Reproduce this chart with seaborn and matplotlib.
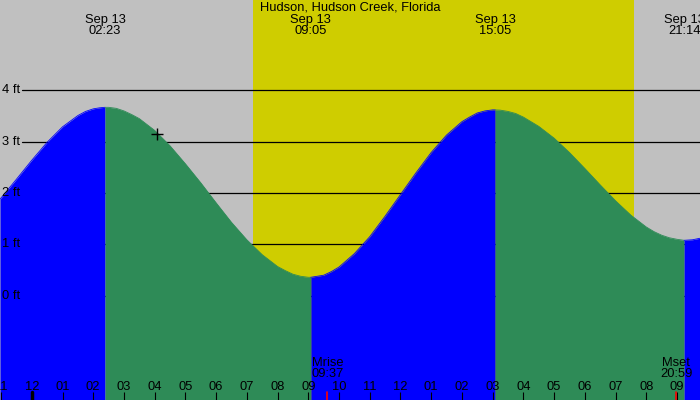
import pandas as pd
import matplotlib
matplotlib.use('Agg')
import matplotlib.pyplot as plt
import matplotlib.transforms as mtransforms
import seaborn as sns

title = 'Hudson, Hudson Creek, Florida'

# tide curve (hours after midnight Sep 13, feet)
tide_hours = [-1.035, -0.5, 0.0, 0.5, 1.0, 1.5, 1.75, 2.0, 2.2, 2.383,
              2.5, 2.75, 3.0, 3.25, 3.5, 4.0, 4.5, 5.0, 5.5, 6.0,
              6.5, 7.0, 7.5, 8.0, 8.25, 8.5, 8.75, 9.0, 9.083, 9.5,
              9.75, 10.0, 10.5, 11.0, 11.5, 12.0, 12.5, 13.0, 13.5, 14.0,
              14.25, 14.5, 14.75, 15.0, 15.083, 15.25, 15.5, 15.75, 16.0, 16.5,
              17.0, 17.5, 18.0, 18.5, 19.0, 19.5, 20.0, 20.25, 20.5, 20.75,
              21.0, 21.233, 21.5, 21.75]
tide_ft = [1.88, 2.27, 2.64, 2.99, 3.29, 3.51, 3.59, 3.64, 3.66, 3.67,
           3.67, 3.65, 3.60, 3.53, 3.45, 3.22, 2.92, 2.57, 2.20, 1.81,
           1.43, 1.09, 0.80, 0.57, 0.49, 0.42, 0.38, 0.36, 0.36, 0.40,
           0.47, 0.56, 0.82, 1.15, 1.55, 1.97, 2.39, 2.79, 3.13, 3.39,
           3.48, 3.56, 3.60, 3.62, 3.62, 3.615, 3.59, 3.55, 3.48, 3.30,
           3.07, 2.79, 2.48, 2.16, 1.85, 1.57, 1.34, 1.25, 1.18, 1.13,
           1.10, 1.08, 1.09, 1.12]

# high / low tides
extreme_hours = [2.383, 9.083, 15.083, 21.233]
extreme_dates = ['Sep 13', 'Sep 13', 'Sep 13', 'Sep 13']
extreme_times = ['02:23', '09:05', '15:05', '21:14']

sunrise, sunset = 7.21, 19.60
moon_hours = [9.617, 20.983]
moon_labels = ['Mrise\n09:37', 'Mset\n20:59']

level_ft = [0, 1, 2, 3, 4]
level_labels = ['0 ft', '1 ft', '2 ft', '3 ft', '4 ft']

hour_ticks = list(range(-1, 22))
hour_labels = ['11', '12', '01', '02', '03', '04', '05', '06', '07', '08',
               '09', '10', '11', '12', '01', '02', '03', '04', '05', '06',
               '07', '08', '09']

now_hour, now_ft = 4.08, 3.16

x_min, x_max = -1.035, 21.75
y_min, y_max = -2.03, 5.76

GRAY = '#c0c0c0'
SUN = '#cfcd00'
RISE = '#0000ff'
FALL = '#2e8b57'

sns.set_theme(style='white', rc={'axes.facecolor': GRAY, 'text.color': 'black',
                                 'xtick.color': 'black', 'xtick.labelcolor': 'black'})
plt.rcParams['font.family'] = ['Liberation Sans', 'DejaVu Sans']
FS = 9.3

df = pd.DataFrame({'hour': tide_hours, 'ft': tide_ft})

fig = plt.figure(figsize=(7, 4), dpi=100)
ax = fig.add_axes([0, 0, 1, 1])
ax.set_xlim(x_min, x_max)
ax.set_ylim(y_min, y_max)
ax.set_axisbelow(False)
for s in ax.spines.values():
    s.set_visible(False)

ax.axvspan(sunrise, sunset, color=SUN, lw=0, zorder=0)
for lv in level_ft:
    ax.axhline(lv, xmin=22 / 700, color='black', lw=0.9, zorder=1)

# rising (blue) and falling (green) stretches between the extremes
edges = [x_min] + extreme_hours + [x_max]
for i in range(len(edges) - 1):
    seg = df[(df.hour >= edges[i]) & (df.hour <= edges[i + 1])]
    col = RISE if i % 2 == 0 else FALL
    ax.fill_between(seg.hour, seg.ft, y_min - 1, color=col, lw=0, zorder=2)
    sns.lineplot(data=seg, x='hour', y='ft', color=col, lw=0.6, ax=ax,
                 zorder=2, estimator=None, sort=False)

ax.plot([now_hour], [now_ft], marker='+', color='black', ms=8, mew=1,
        zorder=4)

tr = mtransforms.blended_transform_factory(ax.transData, ax.transAxes)
tr_y = mtransforms.blended_transform_factory(ax.transAxes, ax.transData)

ax.text(0.5, 1 - 7.5 / 400, title, transform=ax.transAxes, ha='center',
        va='center', fontsize=FS, color='black', zorder=5)
for h, d, t in zip(extreme_hours, extreme_dates, extreme_times):
    ax.text(h, 1 - 25.5 / 400, d + '\n' + t, transform=tr, ha='center',
            va='center', fontsize=FS, linespacing=0.95, color='black', zorder=5)

for lv, lab in zip(level_ft, level_labels):
    ax.text(2 / 700, lv, lab, transform=tr_y, ha='left', va='center',
            fontsize=FS, color='black', zorder=5)

for h, lab in zip(moon_hours, moon_labels):
    ax.text(h, 1 - 368.5 / 400, lab, transform=tr, ha='center', va='center',
            fontsize=FS, linespacing=0.95, color='black', zorder=5)
    ax.axvline(h, ymax=8 / 400, color='red', lw=1.2, zorder=5)

ax.set_xticks(hour_ticks)
ax.set_xticklabels(hour_labels, fontsize=FS, color='black')
ax.set_yticks([])
ax.tick_params(axis='x', direction='in', length=6, width=0.8, pad=-14,
               color='black', bottom=True)
ax.axvline(0, ymax=8 / 400, color='black', lw=2.5, zorder=5)
ax.set_xlabel('')
ax.set_ylabel('')

fig.savefig('out.png', dpi=100)
